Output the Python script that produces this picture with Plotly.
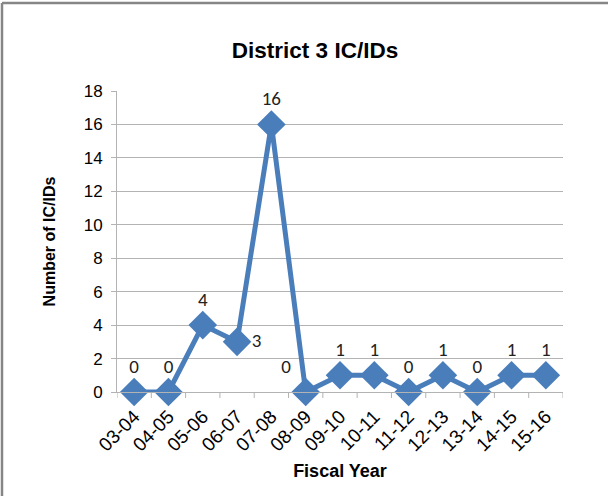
import plotly.graph_objects as go

years = ["03-04", "04-05", "05-06", "06-07", "07-08", "08-09", "09-10",
         "10-11", "11-12", "12-13", "13-14", "14-15", "15-16"]
counts = [0, 0, 4, 3, 16, 0, 1, 1, 0, 1, 0, 1, 1]
label_pos = ["top center", "top center", "top center", "middle right",
             "top center", "top left", "top center", "top center",
             "top center", "top center", "top center", "top center",
             "top center"]
y_ticks = list(range(0, 19, 2))

W, H = 608, 496
L, R, T, B = 117, 45, 91, 104
pw, ph = W - L - R, H - T - B

fig = go.Figure()
fig.add_trace(go.Scatter(
    x=list(range(len(years))), y=counts,
    mode="lines+markers+text",
    line=dict(color="#4a7ebb", width=5),
    marker=dict(symbol="diamond", size=22, color="#4a7ebb"),
    text=[str(v) for v in counts],
    textposition=label_pos,
    textfont=dict(family="Carlito, Liberation Sans, Arial", size=19, color="#222222"),
    cliponaxis=False,
    showlegend=False,
))

grid = "#b3b3b3"
fig.update_layout(
    width=W, height=H,
    margin=dict(l=L, r=R, t=T, b=B),
    paper_bgcolor="white", plot_bgcolor="white",
    font=dict(family="Liberation Sans, Arial", color="#000000"),
    title=dict(text="<b>District 3 IC/IDs</b>", x=315 / W, xanchor="center",
               y=1 - 50 / H, yanchor="middle",
               font=dict(size=22.5, family="Liberation Sans Narrow, Liberation Sans, Arial")),
    xaxis=dict(
        range=[-0.5, len(years) - 0.5],
        tickmode="array", tickvals=list(range(len(years))), ticktext=years,
        tickangle=-45, tickfont=dict(size=19), ticklabelstandoff=5,
        showgrid=False, showline=True, linecolor=grid, linewidth=1,
        ticks="", zeroline=False,
        title=dict(text="<b>Fiscal Year</b>", font=dict(size=18,
                   family="Liberation Sans Narrow, Liberation Sans, Arial"), standoff=10),
    ),
    yaxis=dict(
        range=[0, 18], tickvals=y_ticks, tickfont=dict(size=17), ticklabelstandoff=5,
        showgrid=True, gridcolor=grid, gridwidth=1,
        showline=True, linecolor=grid, linewidth=1,
        ticks="outside", ticklen=5, tickcolor=grid,
        zeroline=False,
        title=dict(text="<b>Number of IC/IDs</b>", font=dict(size=16), standoff=24),
    ),
)

# category boundary tick marks below the x axis
for k in range(len(years) + 1):
    fig.add_shape(type="line", xref="x", yref="paper",
                  x0=k - 0.5, x1=k - 0.5, y0=0, y1=-6 / ph,
                  line=dict(color=grid, width=1))

# chart frame along the left and top edges
bx = (2 - L) / pw
by = 1 + (T - 3) / ph
fig.add_shape(type="line", xref="paper", yref="paper",
              x0=bx, x1=bx, y0=by, y1=-(B + 5) / ph,
              line=dict(color="#868686", width=2.5))
fig.add_shape(type="line", xref="paper", yref="paper",
              x0=bx, x1=1 + (R + 5) / pw, y0=by, y1=by,
              line=dict(color="#868686", width=2.5))

fig.write_html("out.html")
